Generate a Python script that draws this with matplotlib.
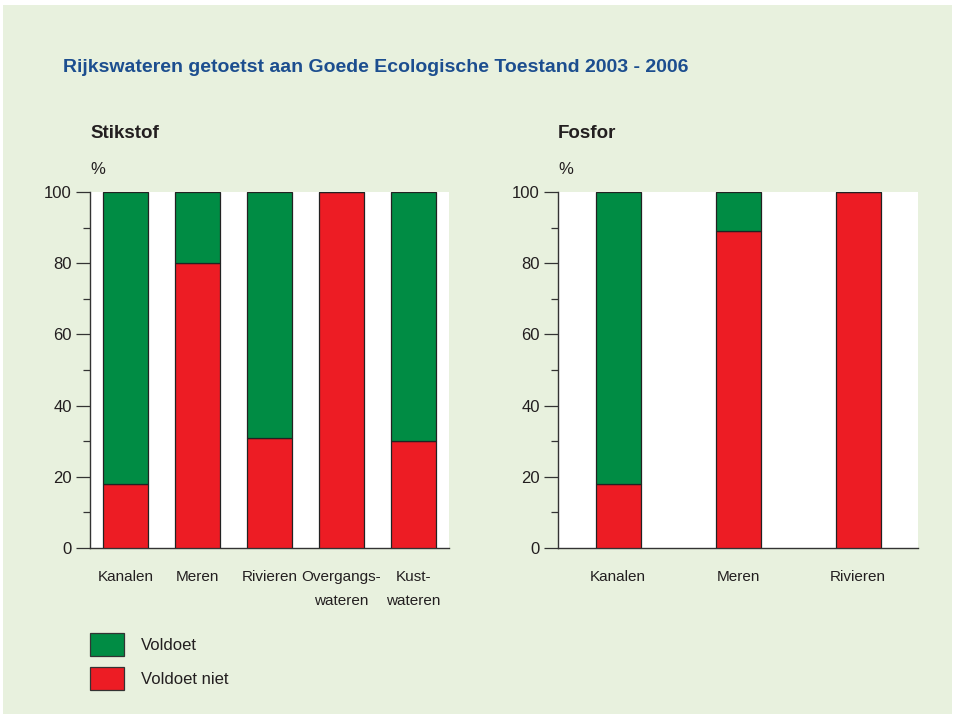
import matplotlib.pyplot as plt
from matplotlib.patches import Rectangle
from matplotlib.ticker import MultipleLocator
from matplotlib import font_manager

# data
stik_labels = ['Kanalen', 'Meren', 'Rivieren', 'Overgangs-\nwateren', 'Kust-\nwateren']
stik_niet = [18, 80, 31, 100, 30]
fos_labels = ['Kanalen', 'Meren', 'Rivieren']
fos_niet = [18, 89, 100]

GREEN = '#008C44'
RED = '#ED1C24'
BG = '#E8F1DE'
TXT = '#231F20'
BLUE = '#1C4E8F'

names = {f.name for f in font_manager.fontManager.ttflist}
fam = 'Liberation Sans Narrow' if 'Liberation Sans Narrow' in names else 'Liberation Sans'
plt.rcParams['font.family'] = [fam, 'DejaVu Sans']
plt.rcParams['text.color'] = TXT

W, H = 956, 717
fig = plt.figure(figsize=(W / 100, H / 100), dpi=100, facecolor='white')
fig.patches.append(Rectangle((3 / W, 3 / H), 949 / W, 709 / H, transform=fig.transFigure,
                             facecolor=BG, edgecolor='none', zorder=-10))

fig.text(63 / W, 1 - 67 / H, 'Rijkswateren getoetst aan Goede Ecologische Toestand 2003 - 2006',
         color=BLUE, fontsize=14, fontweight='bold', va='center', ha='left')


def panel(rect, labels, niet, title):
    ax = fig.add_axes(rect)
    ax.set_facecolor('white')
    x = list(range(len(labels)))
    voldoet = [100 - v for v in niet]
    width = 45 / (rect[2] * W / len(labels))
    ax.bar(x, niet, width=width, color=RED, edgecolor='#222222', linewidth=0.9, zorder=3)
    ax.bar(x, voldoet, bottom=niet, width=width, color=GREEN, edgecolor='#222222', linewidth=0.9, zorder=3)
    ax.set_xlim(-0.5, len(labels) - 0.5)
    ax.set_ylim(0, 100)
    ax.yaxis.set_major_locator(MultipleLocator(20))
    ax.yaxis.set_minor_locator(MultipleLocator(10))
    ax.tick_params(axis='y', which='major', length=10, width=0.9, color='#333333',
                   labelsize=12, labelcolor=TXT, pad=3)
    ax.tick_params(axis='y', which='minor', length=5, width=0.9, color='#333333')
    ax.set_xticks(x)
    ax.set_xticklabels(labels, fontsize=11, color=TXT, linespacing=1.9, va='top')
    ax.tick_params(axis='x', length=0, pad=16)
    for s in ['top', 'right']:
        ax.spines[s].set_visible(False)
    for s in ['left', 'bottom']:
        ax.spines[s].set_color('#333333')
        ax.spines[s].set_linewidth(1.0)
    ax.text(0, 1 + 59 / 356, title, transform=ax.transAxes, fontsize=13.5,
            fontweight='bold', ha='left', va='center')
    ax.text(0, 1 + 22 / 356, '%', transform=ax.transAxes, fontsize=12,
            ha='left', va='center')
    return ax


panel([90 / W, 169 / H, 359 / W, 356 / H], stik_labels, stik_niet, 'Stikstof')
panel([558 / W, 169 / H, 360 / W, 356 / H], fos_labels, fos_niet, 'Fosfor')

# legend
for y0, col, lab in [(633, GREEN, 'Voldoet'), (667, RED, 'Voldoet niet')]:
    fig.patches.append(Rectangle((90 / W, 1 - (y0 + 23) / H), 34 / W, 23 / H,
                                 transform=fig.transFigure, facecolor=col,
                                 edgecolor='#333333', linewidth=0.9))
    fig.text(141 / W, 1 - (y0 + 12) / H, lab, fontsize=12, va='center', ha='left')

fig.savefig('out.png', dpi=100, facecolor='white')
